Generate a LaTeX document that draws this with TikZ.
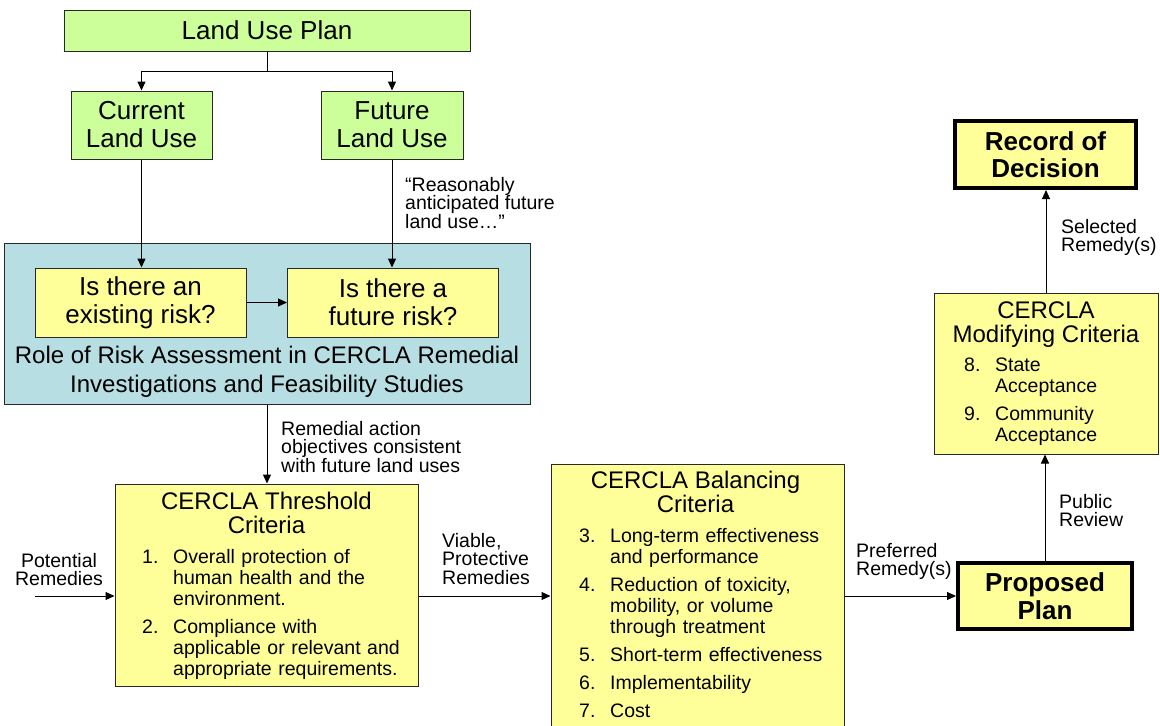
\documentclass[tikz,border=0pt]{standalone}
\usepackage{fontspec}
\setmainfont{Liberation Sans}
\usetikzlibrary{arrows.meta,positioning}

\definecolor{landgreen}{RGB}{204,255,153}
\definecolor{crityellow}{RGB}{255,255,153}
\definecolor{riskblue}{RGB}{183,222,226}
\definecolor{boxline}{RGB}{40,40,40}

\newcommand{\critem}[2]{\par\hangindent=31pt\hangafter=1\noindent\makebox[31pt][l]{#1}#2\par\vspace{7pt}}

\begin{document}
\begin{tikzpicture}[x=1pt,y=-1pt,
		box/.style={draw=boxline,line width=1pt,inner sep=0pt},
		landbox/.style={box,fill=landgreen,align=center,font=\fontsize{26}{28}\selectfont},
		riskbox/.style={box,fill=crityellow,align=center,font=\fontsize{26}{28}\selectfont},
		critbox/.style={box,fill=crityellow},
		planbox/.style={draw=black,line width=4pt,fill=crityellow,inner sep=0pt,align=center,font=\fontsize{26}{27.5}\selectfont\bfseries},
		crithead/.style={anchor=north,align=center,inner sep=0pt,font=\fontsize{24}{24.5}\selectfont},
		critlist/.style={anchor=north west,inner sep=0pt,text width=#1,font=\fontsize{19.5}{21}\selectfont},
		lbl/.style={anchor=north west,inner sep=0pt,align=left,font=\fontsize{19.5}{18.5}\selectfont},
		arr/.style={-{Triangle[length=9pt,width=8pt]},line width=1pt}]
			\useasboundingbox (0,0) rectangle (1160,726);
			\clip (0,0) rectangle (1160,726);
			% land use
			\node[landbox,minimum width=406pt,minimum height=41pt] (plan) at (267,30.5) {Land Use Plan};
			\node[landbox,minimum width=141pt,minimum height=68pt] (current) at (141.5,125) {Current\\Land Use};
			\node[landbox,minimum width=142pt,minimum height=68pt] (future) at (392,125) {Future\\Land Use};
			\draw[arr] (plan.south) -- ++(0,20) -| (current.north);
			\draw[arr] (plan.south) -- ++(0,20) -| (future.north);
			% risk assessment
			\node[box,fill=riskblue,minimum width=526pt,minimum height=161pt] (riskbg) at (267,323.5) {};
			\node[riskbox,minimum width=211pt,minimum height=69pt] (existing) at (140.5,302.5) {Is there an\\existing risk?};
			\node[riskbox,minimum width=211pt,minimum height=69pt] (futurerisk) at (393,302.5) {Is there a\\future risk?};
			\node[anchor=north,align=center,inner sep=0pt,font=\fontsize{24}{29}\selectfont] (role) at (267,345.5) {Role of Risk Assessment in CERCLA Remedial\\Investigations and Feasibility Studies};
			\draw[arr] (current.south) -- (current.south |- existing.north);
			\draw[arr] (future.south) -- (future.south |- futurerisk.north);
			\draw[arr] (existing) -- (futurerisk);
			\node[lbl] (quotelbl) at (405,177) {“Reasonably\\anticipated future\\land use…”};
			% threshold criteria
			\node[critbox,minimum width=303pt,minimum height=202pt] (thresh) at (266.5,585) {};
			\node[crithead] (threshhead) at (266.5,491.5) {CERCLA Threshold\\Criteria};
			\node[critlist=272pt] (threshlist) at (142,542.5) {%
				\critem{1.}{Overall protection of\newline human health and the\newline environment.}%
				\critem{2.}{Compliance with\newline applicable or relevant and\newline appropriate requirements.}};
			\draw[arr] (riskbg.south) -- (riskbg.south |- thresh.north);
			\node[lbl] (raolbl) at (281,421) {Remedial action\\objectives consistent\\with future land uses};
			% balancing criteria
			\node[critbox,minimum width=293pt,minimum height=276pt] (balance) at (697.5,602) {};
			\node[crithead] (balancehead) at (695.5,470.5) {CERCLA Balancing\\Criteria};
			\node[critlist=262pt] (balancelist) at (579,521.5) {%
				\critem{3.}{Long-term effectiveness\newline and performance}%
				\critem{4.}{Reduction of toxicity,\newline mobility, or volume\newline through treatment}%
				\critem{5.}{Short-term effectiveness}%
				\critem{6.}{Implementability}%
				\critem{7.}{Cost}};
			% plans
			\node[planbox,minimum width=174pt,minimum height=66pt] (proposed) at (1045,596) {Proposed\\Plan};
			\node[critbox,minimum width=224pt,minimum height=161pt] (modify) at (1046,373.5) {};
			\node[crithead] (modifyhead) at (1046,301.5) {CERCLA\\Modifying Criteria};
			\node[critlist=185pt] (modifylist) at (964,350) {%
				\critem{8.}{State\newline Acceptance}%
				\critem{9.}{Community\newline Acceptance}};
			\node[planbox,minimum width=181pt,minimum height=67pt] (record) at (1045.5,154.5) {Record of\\Decision};
			% flow along the bottom
			\coordinate (mainline) at (0,596);
			\coordinate (potentialstart) at (35,596);
			\draw[arr] (potentialstart) -- (potentialstart -| thresh.west);
			\draw[arr] (mainline -| thresh.east) -- (mainline -| balance.west);
			\draw[arr] (mainline -| balance.east) -- (proposed.west);
			\draw[arr] (proposed.north) -- (proposed.north |- modify.south);
			\draw[arr] (modify.north) -- (modify.north |- record.south);
			\node[lbl,anchor=north,align=center] (potentiallbl) at (59,553) {Potential\\Remedies};
			\node[lbl] (viablelbl) at (442,533) {Viable,\\Protective\\Remedies};
			\node[lbl] (preferredlbl) at (856,543) {Preferred\\Remedy(s)};
			\node[lbl] (reviewlbl) at (1059,494) {Public\\Review};
			\node[lbl] (selectedlbl) at (1061,219) {Selected\\Remedy(s)};
\end{tikzpicture}
\end{document}
